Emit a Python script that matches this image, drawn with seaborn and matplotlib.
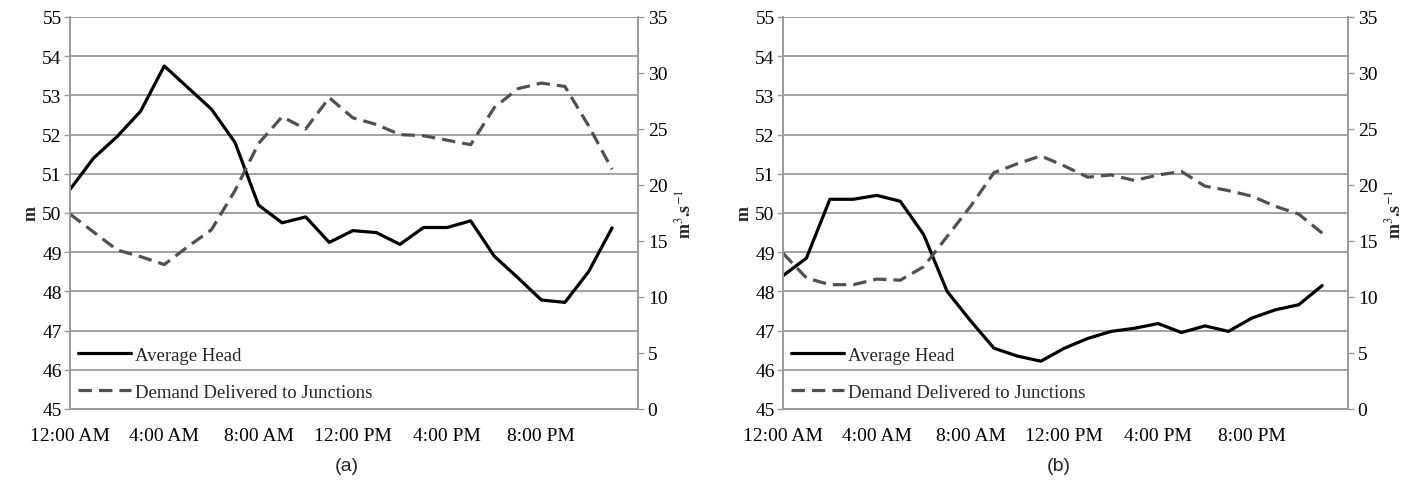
import numpy as np
import matplotlib
matplotlib.use("Agg")
import matplotlib.pyplot as plt
import seaborn as sns

# hourly values, 12:00 AM .. 11:00 PM
hours = list(range(24))
tick_hours = [0, 4, 8, 12, 16, 20]
tick_labels = ["12:00 AM", "4:00 AM", "8:00 AM", "12:00 PM", "4:00 PM", "8:00 PM"]

# panel (a)
head_a = [50.6, 51.4, 51.95, 52.6, 53.75, 53.2, 52.65, 51.8, 50.2, 49.75, 49.9, 49.25,
          49.55, 49.5, 49.2, 49.63, 49.63, 49.8, 48.9, 48.35, 47.78, 47.72, 48.5, 49.62]
demand_a = [17.4, 15.8, 14.2, 13.6, 12.9, 14.5, 16.0, 19.5, 23.7, 26.1, 25.0, 27.8,
            26.0, 25.4, 24.5, 24.4, 24.0, 23.6, 26.9, 28.6, 29.1, 28.8, 25.3, 21.4]

# panel (b)
head_b = [48.4, 48.85, 50.35, 50.35, 50.45, 50.3, 49.45, 48.0, 47.25, 46.55, 46.35, 46.22,
          46.55, 46.8, 46.98, 47.06, 47.18, 46.95, 47.12, 46.98, 47.32, 47.53, 47.66, 48.15]
demand_b = [13.9, 11.7, 11.1, 11.1, 11.6, 11.5, 12.7, 15.4, 18.1, 21.1, 21.9, 22.6,
            21.7, 20.7, 20.9, 20.4, 20.9, 21.2, 19.9, 19.5, 19.0, 18.1, 17.4, 15.7]

labels = ["Average Head", "Demand Delivered to Junctions"]
panels = [("(a)", head_a, demand_a), ("(b)", head_b, demand_b)]

sns.set_style("white")
plt.rcParams["font.family"] = ["Liberation Serif", "DejaVu Serif"]
plt.rcParams["mathtext.fontset"] = "stix"

fig = plt.figure(figsize=(14.13, 4.81), dpi=100)
grid_c = "#9a9a9a"
lefts = [70 / 1413, 783 / 1413]
widths = [568 / 1413, 565 / 1413]

for (tag, head, demand), left, width in zip(panels, lefts, widths):
    ax = fig.add_axes([left, 1 - 410 / 481, width, 392 / 481])
    ax2 = ax.twinx()

    sns.lineplot(x=hours, y=head, ax=ax, color="black", lw=2.3, label=labels[0], legend=False)
    sns.lineplot(x=hours, y=demand, ax=ax2, color="#505050", lw=2.3,
                 linestyle=(0, (4.2, 2.2)), label=labels[1], legend=False)

    ax.set_xlim(0, 24.1)
    ax.set_ylim(45, 55)
    ax.set_yticks(range(45, 56))
    ax2.set_ylim(0, 35)
    ax2.set_yticks(range(0, 36, 5))
    ax.set_xticks(tick_hours)
    ax.set_xticklabels(tick_labels)

    ax.grid(axis="y", color=grid_c, lw=1.3)
    ax.set_axisbelow(True)
    for a in (ax, ax2):
        a.spines["top"].set_visible(False)
        for s in ("left", "right", "bottom"):
            a.spines[s].set_color(grid_c)
            a.spines[s].set_linewidth(1.2)
        a.tick_params(colors="black", labelsize=14, length=4, color=grid_c, width=1)
    ax.tick_params(axis="x", pad=9)
    ax.tick_params(axis="y", pad=2)
    ax2.tick_params(axis="y", pad=3)

    ax.set_ylabel("m", fontsize=13, fontweight="bold", labelpad=2)
    ax2.set_ylabel(r"m$^3$.s$^{-1}$", fontsize=13, fontweight="bold", labelpad=5)
    ax.set_xlabel("")

    h1, l1 = ax.get_legend_handles_labels()
    h2, l2 = ax2.get_legend_handles_labels()
    ax2.legend(h1 + h2, l1 + l2, loc="lower left", frameon=False, fontsize=13.5,
               handlelength=2.8, handletextpad=0.2, labelspacing=1.05,
               borderaxespad=0.05, bbox_to_anchor=(0.0, 0.0))

    fig.text(left + width / 2 - 0.005, 0.03, tag, ha="center", va="center",
             fontsize=14, family=["Liberation Sans", "DejaVu Sans"])

fig.savefig("out.png", dpi=100, facecolor="white")
